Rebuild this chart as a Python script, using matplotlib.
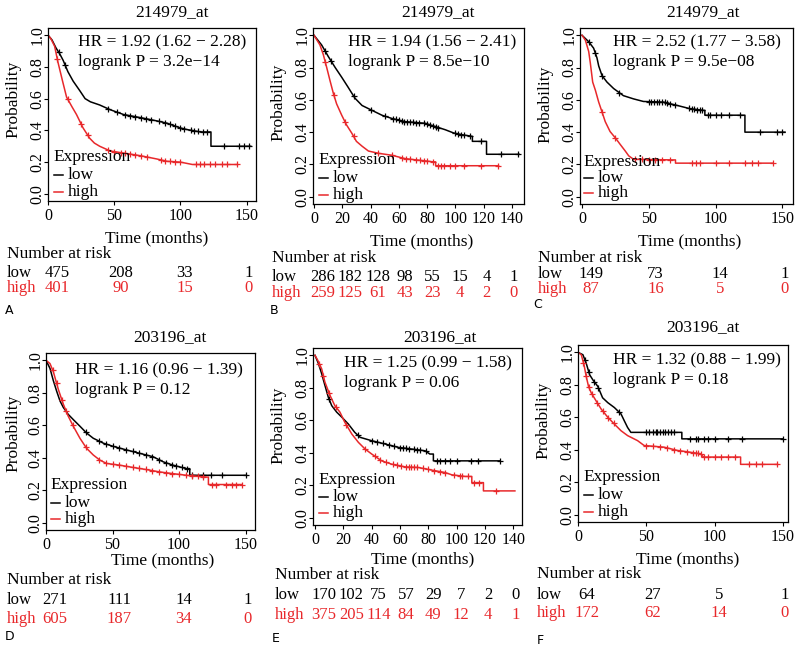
import numpy as np
import matplotlib
matplotlib.use("Agg")
import matplotlib.pyplot as plt
import matplotlib.transforms as mtransforms
from matplotlib.lines import Line2D

W, H = 800, 647
DPI = 100
RED = "#e8282b"
SERIF = "Liberation Serif"

# ---------------- data ----------------
# A : 214979_at
a_low_t = [0, 3, 6, 9, 11.5, 15, 19, 24, 28, 32, 39, 47, 57, 70, 82, 90, 100, 105, 115, 123, 123, 153]
a_low_s = [1.0, 0.97, 0.92, 0.88, 0.84, 0.77, 0.71, 0.65, 0.60, 0.58, 0.56, 0.53, 0.50, 0.48, 0.46, 0.445,
           0.415, 0.405, 0.39, 0.39, 0.30, 0.30]
a_low_cens = [8, 13, 45, 52, 58, 62, 66, 70, 74, 78, 84, 88, 92, 96, 100, 103, 108, 110, 113, 117, 120,
              133, 144, 148, 151.5]
a_high_t = [0, 2, 5, 7.5, 11, 14, 18, 21.5, 26.5, 31.5, 35, 39, 47, 57, 70, 82, 90, 100, 109, 143]
a_high_s = [1.0, 0.98, 0.93, 0.83, 0.71, 0.61, 0.55, 0.50, 0.415, 0.35, 0.32, 0.30, 0.27, 0.257, 0.24,
            0.22, 0.205, 0.20, 0.185, 0.185]
a_high_cens = [7, 15, 25, 30, 45, 50, 55, 58, 62, 66, 70, 75, 85, 88, 92, 96, 100, 112, 115, 118, 122,
               126, 131, 135, 143]
a_risk_times = [0, 50, 100, 150]
a_risk_low = [475, 208, 33, 1]
a_risk_high = [401, 90, 15, 0]

# B : 214979_at
b_low_t = [0, 5.4, 10, 15, 19.6, 24, 29, 34, 41, 48, 55, 64.4, 78.6, 85.7, 92.8, 98.7, 104.6, 112, 112,
           122, 122, 145]
b_low_s = [1.0, 0.94, 0.87, 0.80, 0.74, 0.68, 0.61, 0.565, 0.535, 0.505, 0.485, 0.465, 0.455, 0.435,
           0.415, 0.395, 0.384, 0.374, 0.343, 0.343, 0.263, 0.263]
b_low_cens = [8, 12, 28, 40, 50, 56, 58, 60, 62, 64, 66, 68, 70, 72, 74, 78, 80, 82, 84, 86, 88, 100,
              102, 104, 106, 110, 118, 132, 144.5]
b_high_t = [0, 4.2, 6.6, 9, 11.3, 13.7, 16, 19.6, 23, 26.7, 30, 34, 38.5, 45.6, 55, 64.4, 78.6, 84.5,
            86, 86, 130.5]
b_high_s = [1.0, 0.94, 0.88, 0.80, 0.72, 0.64, 0.575, 0.505, 0.445, 0.394, 0.343, 0.313, 0.283, 0.269,
            0.257, 0.236, 0.222, 0.216, 0.216, 0.192, 0.192]
b_high_cens = [8, 14, 22, 28, 45, 55, 62, 65, 68, 72, 75, 78, 80, 84, 88, 90, 92, 96, 100, 106, 118, 130]
b_risk_times = [0, 20, 40, 60, 80, 100, 120, 140]
b_risk_low = [286, 182, 128, 98, 55, 15, 4, 1]
b_risk_high = [259, 125, 61, 43, 23, 4, 2, 0]

# C : 214979_at
c_low_t = [0, 5, 8.7, 11.2, 12.5, 15, 18.7, 23.7, 31, 38.6, 46, 61, 71, 81, 91, 92, 92, 122, 122, 152]
c_low_s = [1.0, 0.96, 0.92, 0.86, 0.81, 0.75, 0.71, 0.67, 0.626, 0.606, 0.59, 0.586, 0.566, 0.545,
           0.535, 0.535, 0.505, 0.505, 0.40, 0.40]
c_low_cens = [5, 10, 15, 28, 50, 52, 54, 56, 58, 60, 62, 64, 66, 70, 80, 82, 84, 86, 88, 90, 94, 96,
              100, 104, 110, 118, 133, 146, 150]
c_high_t = [0, 2.5, 5, 6.2, 8, 10, 12.5, 15, 17.4, 21, 25, 28.7, 32.4, 35, 38.6, 68.5, 70, 70, 143]
c_high_s = [1.0, 0.97, 0.90, 0.83, 0.71, 0.66, 0.586, 0.525, 0.465, 0.404, 0.364, 0.323, 0.283, 0.253,
            0.232, 0.228, 0.228, 0.208, 0.208]
c_high_cens = [15, 25, 40, 45, 50, 55, 60, 66, 82, 85, 88, 100, 110, 122, 127, 132, 143]
c_risk_times = [0, 50, 100, 150]
c_risk_low = [149, 73, 14, 1]
c_risk_high = [87, 16, 5, 0]

# D : 203196_at
d_low_t = [0, 3, 5.5, 8, 10.5, 13, 16.7, 20.5, 25.5, 30.5, 35.5, 43, 50.5, 60.5, 70.5, 80.5, 88, 95.5,
           105.5, 108, 108, 150.5]
d_low_s = [1.0, 0.95, 0.875, 0.81, 0.75, 0.71, 0.667, 0.635, 0.594, 0.552, 0.52, 0.49, 0.47, 0.448,
           0.427, 0.406, 0.375, 0.354, 0.333, 0.333, 0.292, 0.292]
d_low_cens = [30, 40, 45, 50, 55, 60, 65, 70, 75, 80, 85, 90, 95, 98, 102, 106, 110, 118, 124, 132, 150.5]
d_high_t = [0, 3, 5.5, 9.3, 13, 16.7, 20.5, 25.5, 30.5, 35.5, 40.5, 45.5, 55.5, 65.5, 75.5, 85.5, 95.5,
            105.5, 120.5, 122, 122, 147]
d_high_s = [1.0, 0.98, 0.93, 0.82, 0.73, 0.656, 0.594, 0.52, 0.458, 0.417, 0.385, 0.365, 0.354, 0.34,
            0.327, 0.3125, 0.302, 0.292, 0.281, 0.281, 0.235, 0.235]
d_high_cens = [5, 8, 12, 15, 20, 30, 40, 45, 50, 55, 60, 65, 70, 75, 80, 85, 90, 95, 100, 105, 110, 114,
               118, 125, 128, 135, 140, 143, 147]
d_risk_times = [0, 50, 100, 150]
d_risk_low = [271, 111, 14, 1]
d_risk_high = [605, 187, 34, 0]

# E : 203196_at
e_low_t = [0, 2.4, 4.7, 7, 9.4, 11.8, 15.3, 18.8, 23.5, 28, 31.8, 40, 49.4, 58.8, 68, 77.6, 81, 83.5,
           83.5, 130.6]
e_low_s = [1.0, 0.95, 0.887, 0.815, 0.742, 0.69, 0.65, 0.62, 0.577, 0.526, 0.495, 0.474, 0.454, 0.433,
           0.423, 0.412, 0.392, 0.392, 0.35, 0.35]
e_low_cens = [10, 30, 40, 44, 48, 52, 56, 60, 62, 64, 66, 70, 72, 74, 78, 86, 88, 92, 95, 100, 110, 115,
              130.6]
e_high_t = [0, 1.9, 4.7, 7, 10.6, 14, 17.6, 21, 26, 30.6, 35.3, 40, 47, 54, 63.5, 73, 82.4, 91.8, 96.5,
            106, 110.6, 110.6, 118.8, 118.8, 141]
e_high_s = [1.0, 0.97, 0.917, 0.835, 0.753, 0.69, 0.65, 0.588, 0.515, 0.464, 0.423, 0.392, 0.35, 0.33,
            0.313, 0.309, 0.293, 0.278, 0.264, 0.254, 0.254, 0.216, 0.216, 0.165, 0.165]
e_high_cens = [3, 6, 10, 15, 22, 35, 42, 46, 50, 55, 58, 61, 64, 66, 68, 70, 72, 76, 80, 84, 88, 92, 98,
               102, 104, 108, 112, 116, 128]
e_risk_times = [0, 20, 40, 60, 80, 100, 120, 140]
e_risk_low = [170, 102, 75, 57, 29, 7, 2, 0]
e_risk_high = [375, 205, 114, 84, 49, 12, 4, 1]

# F : 203196_at
f_low_t = [0, 3.6, 6, 8.5, 10.9, 14.5, 18, 21.8, 26.6, 31.5, 33.9, 36.3, 38.7, 76, 76, 150]
f_low_s = [1.0, 0.985, 0.933, 0.862, 0.83, 0.79, 0.72, 0.69, 0.66, 0.62, 0.578, 0.537, 0.507, 0.507,
           0.467, 0.467]
f_low_cens = [5, 8, 12, 15, 30, 50, 52, 55, 57, 58, 60, 62, 64, 66, 68, 70, 82, 86, 88, 92, 95, 100, 110,
              120, 150]
f_high_t = [0, 2.4, 4.4, 6, 7.7, 9.7, 13.3, 17, 21.8, 26.6, 31.5, 36.3, 43.6, 48.4, 63, 72.6, 82, 89.5,
            92, 119, 119, 146]
f_high_s = [1.0, 0.985, 0.923, 0.852, 0.79, 0.75, 0.70, 0.65, 0.60, 0.558, 0.517, 0.487, 0.456, 0.426,
            0.416, 0.396, 0.385, 0.375, 0.355, 0.355, 0.31, 0.31]
f_high_cens = [4, 6, 8, 10, 14, 18, 22, 26, 50, 55, 60, 65, 70, 75, 80, 84, 86, 88, 90, 92, 95, 100, 105,
               110, 115, 125, 130, 135, 146]
f_risk_times = [0, 50, 100, 150]
f_risk_low = [64, 27, 5, 1]
f_risk_high = [172, 62, 14, 0]

titles = ["214979_at", "214979_at", "214979_at", "203196_at", "203196_at", "203196_at"]
hr_texts = ["HR = 1.92 (1.62 \u2212 2.28)", "HR = 1.94 (1.56 \u2212 2.41)", "HR = 2.52 (1.77 \u2212 3.58)",
            "HR = 1.16 (0.96 \u2212 1.39)", "HR = 1.25 (0.99 \u2212 1.58)", "HR = 1.32 (0.88 \u2212 1.99)"]
p_texts = ["logrank P = 3.2e\u221214", "logrank P = 8.5e\u221210", "logrank P = 9.5e\u221208",
           "logrank P = 0.12", "logrank P = 0.06", "logrank P = 0.18"]
letters = ["A", "B", "C", "D", "E", "F"]
y_ticks = [0.0, 0.2, 0.4, 0.6, 0.8, 1.0]

curves = [
    (a_low_t, a_low_s, a_low_cens, a_high_t, a_high_s, a_high_cens),
    (b_low_t, b_low_s, b_low_cens, b_high_t, b_high_s, b_high_cens),
    (c_low_t, c_low_s, c_low_cens, c_high_t, c_high_s, c_high_cens),
    (d_low_t, d_low_s, d_low_cens, d_high_t, d_high_s, d_high_cens),
    (e_low_t, e_low_s, e_low_cens, e_high_t, e_high_s, e_high_cens),
    (f_low_t, f_low_s, f_low_cens, f_high_t, f_high_s, f_high_cens),
]
risks = [
    (a_risk_times, a_risk_low, a_risk_high),
    (b_risk_times, b_risk_low, b_risk_high),
    (c_risk_times, c_risk_low, c_risk_high),
    (d_risk_times, d_risk_low, d_risk_high),
    (e_risk_times, e_risk_low, e_risk_high),
    (f_risk_times, f_risk_low, f_risk_high),
]

# ---------------- layout (pixels) ----------------
# box = (left, right, top, bottom); nar = (x, "Number at risk" y, low row y, high row y)
layout = [
    dict(box=(48, 256, 28, 201), xlim=(0, 157), title=(172, 12), hr=(78, 42, 62), leg=(53, 157, 175, 192),
         time=(157, 238), ylab=(13, 99), nar=(7, 254, 273, 288), letter=(5, 310)),
    dict(box=(313, 524, 28, 204), xlim=(-0.7, 148.5), title=(438, 12), hr=(348, 42, 62), leg=(318, 160, 178, 195),
         time=(422, 241), ylab=(278, 102), nar=(272, 258, 277, 293), letter=(270, 310)),
    dict(box=(580, 793, 28, 204), xlim=(-1.5, 158), title=(703, 12), hr=(613, 42, 62), leg=(583, 162, 178, 193),
         time=(690, 241), ylab=(545, 104), nar=(538, 258, 274, 289), letter=(533, 304)),
    dict(box=(46, 255, 353, 530), xlim=(0, 157), title=(170, 337), hr=(75, 370, 390), leg=(50, 485, 503, 519),
         time=(163, 560), ylab=(13, 433), nar=(7, 580, 600, 619), letter=(5, 637)),
    dict(box=(313, 522, 348, 525), xlim=(-1.4, 146), title=(440, 337), hr=(344, 363, 383), leg=(318, 480, 497, 513),
         time=(423, 559), ylab=(278, 425), nar=(275, 575, 595, 615), letter=(272, 639)),
    dict(box=(578, 788, 345, 522), xlim=(0, 153.7), title=(703, 327), hr=(613, 360, 380), leg=(583, 477, 495, 512),
         time=(688, 559), ylab=(543, 420), nar=(537, 574, 595, 613), letter=(537, 640)),
]


def fx(px):
    return px / W


def fy(py):
    return 1 - py / H


def draw_panel(fig, i):
    lay = layout[i]
    l, r, t, b = lay["box"]
    ax = fig.add_axes([fx(l), fy(b), (r - l) / W, (b - t) / H])
    lt, ls, lc, ht, hs, hc = curves[i]
    rt, rlow, rhigh = risks[i]

    for tt, ss, cc, col in [(lt, ls, lc, "black"), (ht, hs, hc, RED)]:
        ax.plot(tt, ss, color=col, lw=1.1)
        # censor marks sit on the curve
        cy = np.interp(cc, tt, ss)
        ax.plot(cc, cy, ls="none", marker="+", ms=5, mew=0.9, color=col)

    ax.set_xlim(*lay["xlim"])
    ax.set_ylim(-0.045, 1.045)
    ax.set_xticks(rt)
    ax.set_xticklabels([str(v) for v in rt], fontfamily=SERIF, fontsize=11.5)
    ax.set_yticks(y_ticks)
    ax.set_yticklabels([f"{v:.1f}" for v in y_ticks], fontfamily=SERIF, fontsize=11.5,
                       rotation=90, va="center")
    ax.tick_params(axis="both", direction="out", length=3, width=0.8, color="black")
    ax.tick_params(axis="x", pad=2)
    ax.tick_params(axis="y", pad=-1)
    for sp in ax.spines.values():
        sp.set_linewidth(0.9)
        sp.set_color("black")

    tx = dict(fontfamily=SERIF, fontsize=12.5, color="black")
    fig.text(fx(lay["title"][0]), fy(lay["title"][1]), titles[i], ha="center", va="center", **tx)
    hx, hy, py = lay["hr"]
    fig.text(fx(hx), fy(hy), hr_texts[i], ha="left", va="center", **tx)
    fig.text(fx(hx), fy(py), p_texts[i], ha="left", va="center", **tx)

    # legend
    lx, ey, loy, hiy = lay["leg"]
    fig.text(fx(lx), fy(ey), "Expression", ha="left", va="center", **tx)
    for yy, col, lab in [(loy, "black", "low"), (hiy, RED, "high")]:
        fig.add_artist(Line2D([fx(lx + 1), fx(lx + 10)], [fy(yy), fy(yy)], color=col, lw=1.1,
                              transform=fig.transFigure))
        fig.text(fx(lx + 15), fy(yy), lab, ha="left", va="center", **tx)

    fig.text(fx(lay["time"][0]), fy(lay["time"][1]), "Time (months)", ha="center", va="center", **tx)
    fig.text(fx(lay["ylab"][0]), fy(lay["ylab"][1]), "Probability", ha="center", va="center",
             rotation=90, **tx)

    # number at risk table
    rk = dict(tx, fontsize=12)
    nx, ny, lowy, highy = lay["nar"]
    fig.text(fx(nx), fy(ny), "Number at risk", ha="left", va="center", **tx)
    fig.text(fx(nx), fy(lowy), "low", ha="left", va="center", **rk)
    fig.text(fx(nx), fy(highy), "high", ha="left", va="center", **dict(rk, color=RED))
    base = mtransforms.blended_transform_factory(ax.transData, fig.transFigure)
    n = len(rt)
    for k, (tv, nl, nh) in enumerate(zip(rt, rlow, rhigh)):
        shift = (9 - 7 * k / (n - 1)) / DPI
        trans = base + mtransforms.ScaledTranslation(shift, 0, fig.dpi_scale_trans)
        fig.text(tv, fy(lowy), str(nl), ha="center", va="center", transform=trans, **rk)
        fig.text(tv, fy(highy), str(nh), ha="center", va="center", transform=trans, **dict(rk, color=RED))

    fig.text(fx(lay["letter"][0]), fy(lay["letter"][1]), letters[i], ha="left", va="center",
             fontfamily="DejaVu Sans", fontsize=9, color="black")


fig = plt.figure(figsize=(W / DPI, H / DPI), dpi=DPI)
fig.patch.set_facecolor("white")
for i in range(6):
    draw_panel(fig, i)

fig.savefig("out.png", dpi=DPI, facecolor="white")
